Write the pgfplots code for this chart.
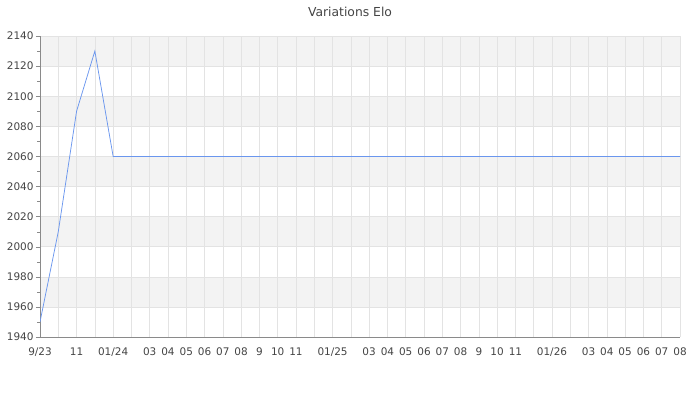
\documentclass[border=0pt]{standalone}
\usepackage{fontspec}
\setmainfont{DejaVu Sans}
\usepackage{pgfplots}
\pgfplotsset{compat=1.18}
\definecolor{eloline}{HTML}{6A96EE}
\definecolor{gridc}{HTML}{E3E3E3}
\definecolor{bandc}{HTML}{F3F3F3}
\definecolor{axisc}{HTML}{8A8A8A}
\definecolor{txt}{HTML}{444444}
\pgfplotsset{band/.style={draw=none, fill=bandc, on layer=axis background, forget plot}}
\begin{document}
\begin{tikzpicture}
\begin{axis}[
    set layers,
    scale only axis,
    width=640bp, height=301bp,
    at={(0,0)}, anchor=south west,
    xmin=0, xmax=35,
    ymin=1940, ymax=2140,
    axis lines*=left,
    axis line style={axisc},
    xtick={0,...,35},
    xticklabels={9/23,,11,,01/24,,03,04,05,06,07,08,9,10,11,,01/25,,03,04,05,06,07,08,9,10,11,,01/26,,03,04,05,06,07,08},
    ytick={1940,1960,...,2140},
    minor ytick={1950,1970,...,2130},
    major x tick style={draw=none},
    tick align=outside,
    major tick length=4bp,
    minor tick length=2.5bp,
    tick style={axisc},
    ymajorgrids, xmajorgrids,
    major grid style={gridc, line width=0.6pt},
    tick label style={font=\fontsize{10.5}{12}\selectfont, text=txt},
    /pgf/number format/assume math mode=true,
    /pgf/number format/1000 sep={},
    xticklabel style={yshift=-3bp},
    yticklabel style={xshift=1bp},
]
\addplot[band] coordinates {(0,1960) (35,1960) (35,1980) (0,1980)} -- cycle;
\addplot[band] coordinates {(0,2000) (35,2000) (35,2020) (0,2020)} -- cycle;
\addplot[band] coordinates {(0,2040) (35,2040) (35,2060) (0,2060)} -- cycle;
\addplot[band] coordinates {(0,2080) (35,2080) (35,2100) (0,2100)} -- cycle;
\addplot[band] coordinates {(0,2120) (35,2120) (35,2140) (0,2140)} -- cycle;
\addplot[eloline, line width=0.75pt, mark=none] coordinates {
(0,1950) (1,2010) (2,2090) (3,2130) (4,2060) (5,2060) (6,2060) (7,2060)
(8,2060) (9,2060) (10,2060) (11,2060) (12,2060) (13,2060) (14,2060)
(15,2060) (16,2060) (17,2060) (18,2060) (19,2060) (20,2060) (21,2060)
(22,2060) (23,2060) (24,2060) (25,2060) (26,2060) (27,2060) (28,2060)
(29,2060) (30,2060) (31,2060) (32,2060) (33,2060) (34,2060) (35,2060)
};
\end{axis}
\node[font=\fontsize{12.4}{14}\selectfont, text=txt] at (310bp,325bp) {Variations Elo};
\pgfresetboundingbox
\useasboundingbox (-40bp,-63bp) rectangle (660bp,337bp);
\end{tikzpicture}
\end{document}
